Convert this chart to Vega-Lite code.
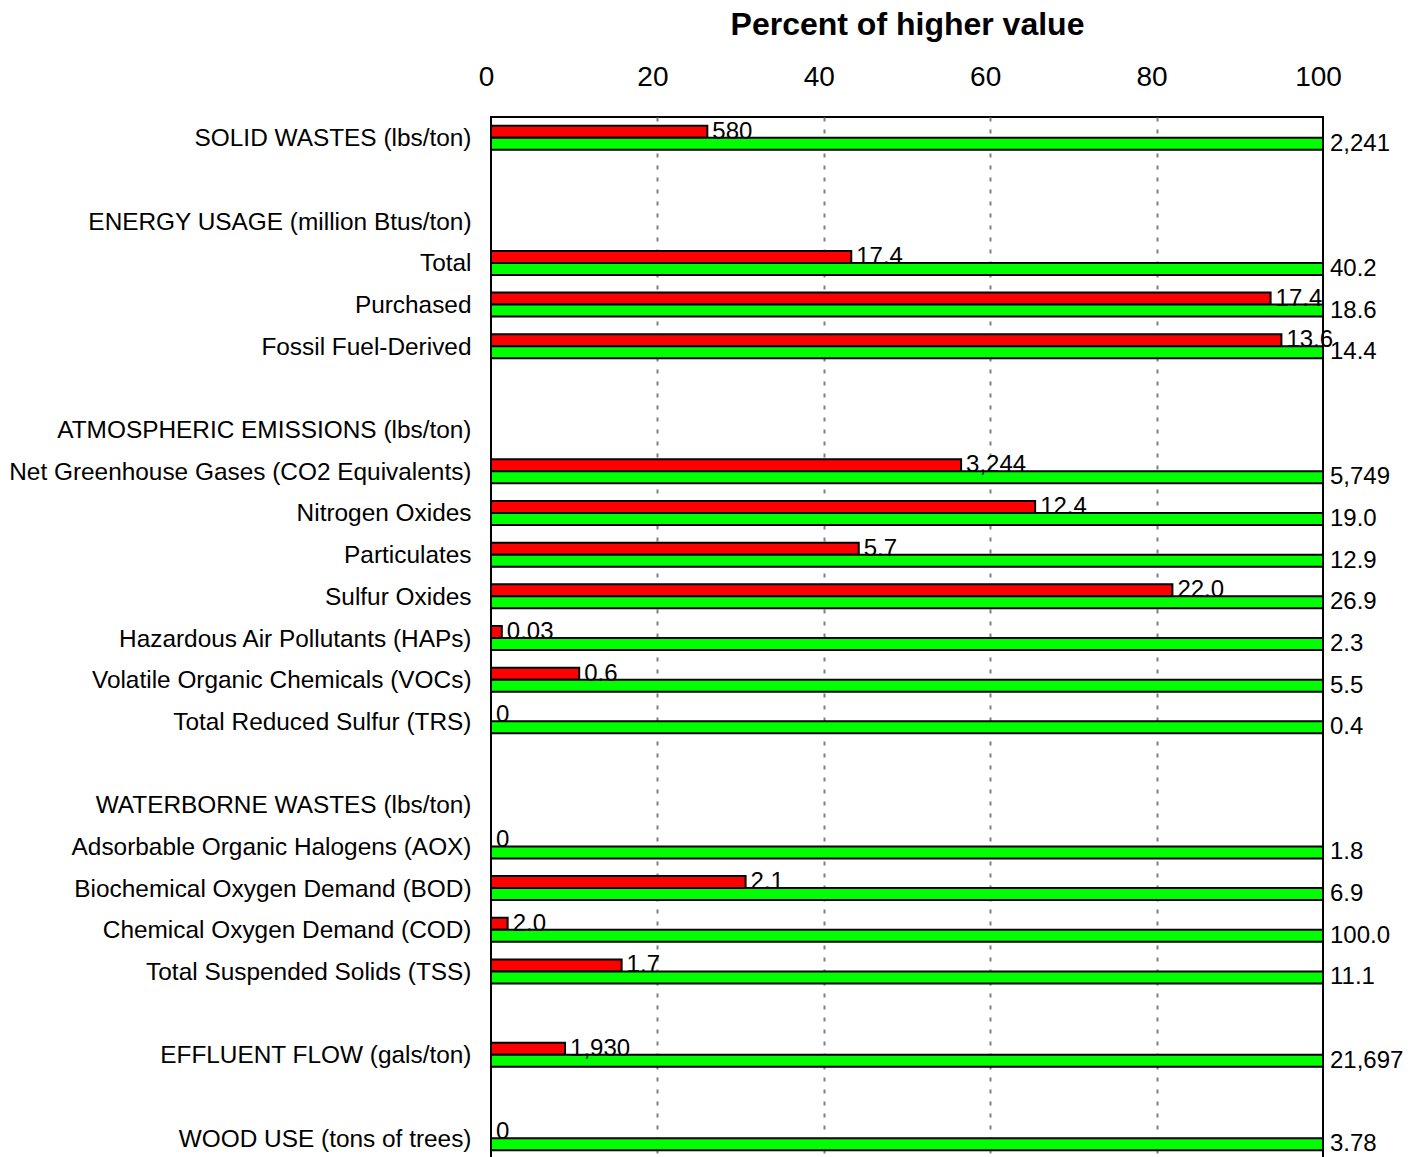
{
  "$schema": "https://vega.github.io/schema/vega-lite/v6.json",
  "autosize": "none",
  "padding": {"left": 491, "top": 117, "right": 100, "bottom": 0},
  "width": 832,
  "height": 1042,
  "background": "white",
  "config": {
    "font": "Liberation Sans",
    "view": {"stroke": "black", "strokeWidth": 2}
  },
  "data": {
    "values": [
      {"row": "SOLID WASTES (lbs/ton)", "series": "A", "pct": 26.0, "label": "580"},
      {"row": "SOLID WASTES (lbs/ton)", "series": "B", "pct": 100, "label": "2,241"},
      {"row": "Total", "series": "A", "pct": 43.3, "label": "17.4"},
      {"row": "Total", "series": "B", "pct": 100, "label": "40.2"},
      {"row": "Purchased", "series": "A", "pct": 93.7, "label": "17.4"},
      {"row": "Purchased", "series": "B", "pct": 100, "label": "18.6"},
      {"row": "Fossil Fuel-Derived", "series": "A", "pct": 95.0, "label": "13.6"},
      {"row": "Fossil Fuel-Derived", "series": "B", "pct": 100, "label": "14.4"},
      {"row": "Net Greenhouse Gases (CO2 Equivalents)", "series": "A", "pct": 56.5, "label": "3,244"},
      {"row": "Net Greenhouse Gases (CO2 Equivalents)", "series": "B", "pct": 100, "label": "5,749"},
      {"row": "Nitrogen Oxides", "series": "A", "pct": 65.4, "label": "12.4"},
      {"row": "Nitrogen Oxides", "series": "B", "pct": 100, "label": "19.0"},
      {"row": "Particulates", "series": "A", "pct": 44.2, "label": "5.7"},
      {"row": "Particulates", "series": "B", "pct": 100, "label": "12.9"},
      {"row": "Sulfur Oxides", "series": "A", "pct": 81.9, "label": "22.0"},
      {"row": "Sulfur Oxides", "series": "B", "pct": 100, "label": "26.9"},
      {"row": "Hazardous Air Pollutants (HAPs)", "series": "A", "pct": 1.3, "label": "0.03"},
      {"row": "Hazardous Air Pollutants (HAPs)", "series": "B", "pct": 100, "label": "2.3"},
      {"row": "Volatile Organic Chemicals (VOCs)", "series": "A", "pct": 10.6, "label": "0.6"},
      {"row": "Volatile Organic Chemicals (VOCs)", "series": "B", "pct": 100, "label": "5.5"},
      {"row": "Total Reduced Sulfur (TRS)", "series": "A", "pct": 0, "label": "0"},
      {"row": "Total Reduced Sulfur (TRS)", "series": "B", "pct": 100, "label": "0.4"},
      {"row": "Adsorbable Organic Halogens (AOX)", "series": "A", "pct": 0, "label": "0"},
      {"row": "Adsorbable Organic Halogens (AOX)", "series": "B", "pct": 100, "label": "1.8"},
      {"row": "Biochemical Oxygen Demand (BOD)", "series": "A", "pct": 30.6, "label": "2.1"},
      {"row": "Biochemical Oxygen Demand (BOD)", "series": "B", "pct": 100, "label": "6.9"},
      {"row": "Chemical Oxygen Demand (COD)", "series": "A", "pct": 2.0, "label": "2.0"},
      {"row": "Chemical Oxygen Demand (COD)", "series": "B", "pct": 100, "label": "100.0"},
      {"row": "Total Suspended Solids (TSS)", "series": "A", "pct": 15.7, "label": "1.7"},
      {"row": "Total Suspended Solids (TSS)", "series": "B", "pct": 100, "label": "11.1"},
      {"row": "EFFLUENT FLOW (gals/ton)", "series": "A", "pct": 8.9, "label": "1,930"},
      {"row": "EFFLUENT FLOW (gals/ton)", "series": "B", "pct": 100, "label": "21,697"},
      {"row": "WOOD USE (tons of trees)", "series": "A", "pct": 0, "label": "0"},
      {"row": "WOOD USE (tons of trees)", "series": "B", "pct": 100, "label": "3.78"}
    ]
  },
  "encoding": {
    "y": {
      "field": "row",
      "type": "nominal",
      "scale": {
        "domain": [
          "SOLID WASTES (lbs/ton)", " ", "ENERGY USAGE (million Btus/ton)", "Total", "Purchased", "Fossil Fuel-Derived", "  ",
          "ATMOSPHERIC EMISSIONS (lbs/ton)", "Net Greenhouse Gases (CO2 Equivalents)", "Nitrogen Oxides", "Particulates", "Sulfur Oxides",
          "Hazardous Air Pollutants (HAPs)", "Volatile Organic Chemicals (VOCs)", "Total Reduced Sulfur (TRS)", "   ",
          "WATERBORNE WASTES (lbs/ton)", "Adsorbable Organic Halogens (AOX)", "Biochemical Oxygen Demand (BOD)", "Chemical Oxygen Demand (COD)",
          "Total Suspended Solids (TSS)", "    ", "EFFLUENT FLOW (gals/ton)", "     ", "WOOD USE (tons of trees)"
        ],
        "paddingInner": 0.424,
        "paddingOuter": 0.212
      },
      "axis": {
        "title": null,
        "domain": false,
        "ticks": false,
        "labelPadding": 20,
        "labelFontSize": 24.4,
        "labelColor": "black",
        "labelLimit": 0,
        "labelOffset": 1.5
      }
    },
    "yOffset": {
      "field": "series",
      "type": "nominal",
      "scale": {"domain": ["A", "B"], "paddingInner": 0, "paddingOuter": 0}
    },
    "x": {
      "field": "pct",
      "type": "quantitative",
      "scale": {"domain": [0, 100], "nice": false},
      "axis": {
        "orient": "top",
        "title": "Percent of higher value",
        "titleFontSize": 32,
        "titleFontWeight": "bold",
        "titleColor": "black",
        "titlePadding": 22,
        "values": [0, 20, 40, 60, 80, 100],
        "domain": false,
        "ticks": false,
        "labelPadding": 26,
        "labelFontSize": 28,
        "labelColor": "black",
        "labelFlush": false,
        "labelOffset": -5,
        "grid": true,
        "gridColor": {"condition": {"test": "datum.value == 0 || datum.value == 100", "value": "transparent"}, "value": "#808080"},
        "gridDash": [4, 8],
        "gridWidth": 2
      }
    }
  },
  "layer": [
    {
      "mark": {"type": "bar", "stroke": "black", "strokeWidth": 2},
      "encoding": {
        "color": {
          "field": "series",
          "type": "nominal",
          "scale": {"domain": ["A", "B"], "range": ["#FF0000", "#00FF00"]},
          "legend": null
        }
      }
    },
    {
      "transform": [{"filter": "datum.series == 'A'"}],
      "mark": {"type": "text", "align": "left", "baseline": "middle", "dx": 5, "fontSize": 24, "color": "black"},
      "encoding": {"text": {"field": "label", "type": "nominal"}}
    },
    {
      "transform": [{"filter": "datum.series == 'B'"}],
      "mark": {"type": "text", "align": "left", "baseline": "middle", "dx": 7, "fontSize": 24, "color": "black"},
      "encoding": {"text": {"field": "label", "type": "nominal"}}
    }
  ]
}
